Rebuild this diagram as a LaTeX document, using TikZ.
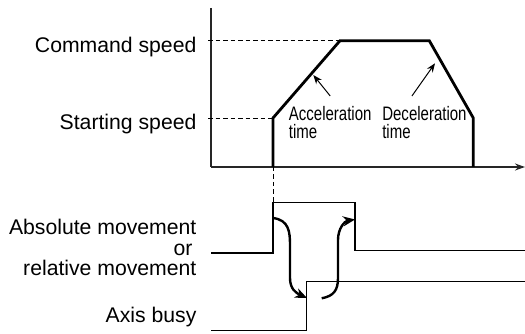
\documentclass[tikz,border=0pt]{standalone}
\usepackage{fontspec}
\setmainfont{Liberation Sans}
\newfontfamily\narrowfont{Liberation Sans}[FakeStretch=0.77]
\usetikzlibrary{arrows.meta, positioning}
\tikzset{
  every picture/.style={line width=1.2pt},
  axisline/.style={line width=1.4pt, draw=black!85},
  profile/.style={line width=2.8pt, line join=miter},
  guide/.style={line width=0.9pt, dash pattern=on 4.5pt off 3pt},
  signal/.style={line width=1.3pt},
  label/.style={font=\fontsize{21.2}{21}\selectfont, inner sep=0pt},
  note/.style={font=\narrowfont\fontsize{19.5}{17.6}\selectfont, inner sep=0pt, align=left},
  pointer/.style={-{Stealth[length=9pt, width=7pt]}, line width=1pt},
  handshake/.style={-{Stealth[length=12pt, width=10pt]}, line width=2.4pt},
}

\begin{document}
\begin{tikzpicture}[x=1pt, y=-1pt]
  \useasboundingbox (0,0) rectangle (525,334);
  % speed axes
  \coordinate (origin) at (211,167);
  \coordinate (ytop) at (211,8);
  \coordinate (xend) at (525,167);
  \draw[axisline] (ytop) -- (origin);
  \draw[axisline, -{Stealth[length=10pt, width=7pt]}] (origin) -- (xend);
  % speed profile
  \coordinate (t0) at (273,167);
  \coordinate (t1) at (273,118);
  \coordinate (t2) at (340,40.7);
  \coordinate (t3) at (429.3,40.7);
  \coordinate (t4) at (473.3,118);
  \coordinate (t5) at (473.3,167);
  \draw[guide] (208,40.7) -- (t2);
  \draw[guide] (208,118) -- (t1);
  \draw[guide] (t0) -- (273,203);
  \draw[profile] (t0) -- (t1) -- (t2) -- (t3) -- (t4) -- (t5);
  \node[label, anchor=base east] (cmd) at (197,52.3) {Command speed};
  \node[label, anchor=base east] (start) at (197,130) {Starting speed};
  \node[note, anchor=base west] (acc) at (288.3,138.3) {Acceleration\\time};
  \node[note, anchor=base west] (dec) at (381.7,138.3) {Deceleration\\time};
  \coordinate (acctip) at (313.3,75);
  \coordinate (dectip) at (435,63.3);
  \draw[pointer] ([yshift=10pt]acc.north) -- (acctip);
  \draw[pointer] ([xshift=-12.5pt, yshift=10pt]dec.north) -- (dectip);
  % signals
  \draw[signal] (211,253) -- (273,253) -- (273,202.7) -- (355,202.7) -- (355,250.7) -- (525,250.7);
  \draw[signal] (211,330.7) -- (306.7,330.7) -- (306.7,281.7) -- (525,281.7);
  \node[label, anchor=base east] (absmove) at (197,234) {Absolute movement};
  \node[label, anchor=base east] (orword) at (193,255) {or};
  \node[label, anchor=base east] (relmove) at (197,275.7) {relative movement};
  \node[label, anchor=base east] (busy) at (197,322.3) {Axis busy};
  \coordinate (absup) at (273,218);
  \coordinate (busyup) at (307,298);
  \coordinate (busyout) at (321.7,298.3);
  \coordinate (absdown) at (355,219.5);
  \draw[handshake] (absup) .. controls (289,220) and (290,232) .. (290,245) -- (290,278)
    .. controls (290,289) and (296,293) .. (busyup);
  \draw[handshake] (busyout) .. controls (334,296) and (338,290) .. (338,278) -- (338,240)
    .. controls (338,228) and (345,221) .. (absdown);
\end{tikzpicture}
\end{document}
